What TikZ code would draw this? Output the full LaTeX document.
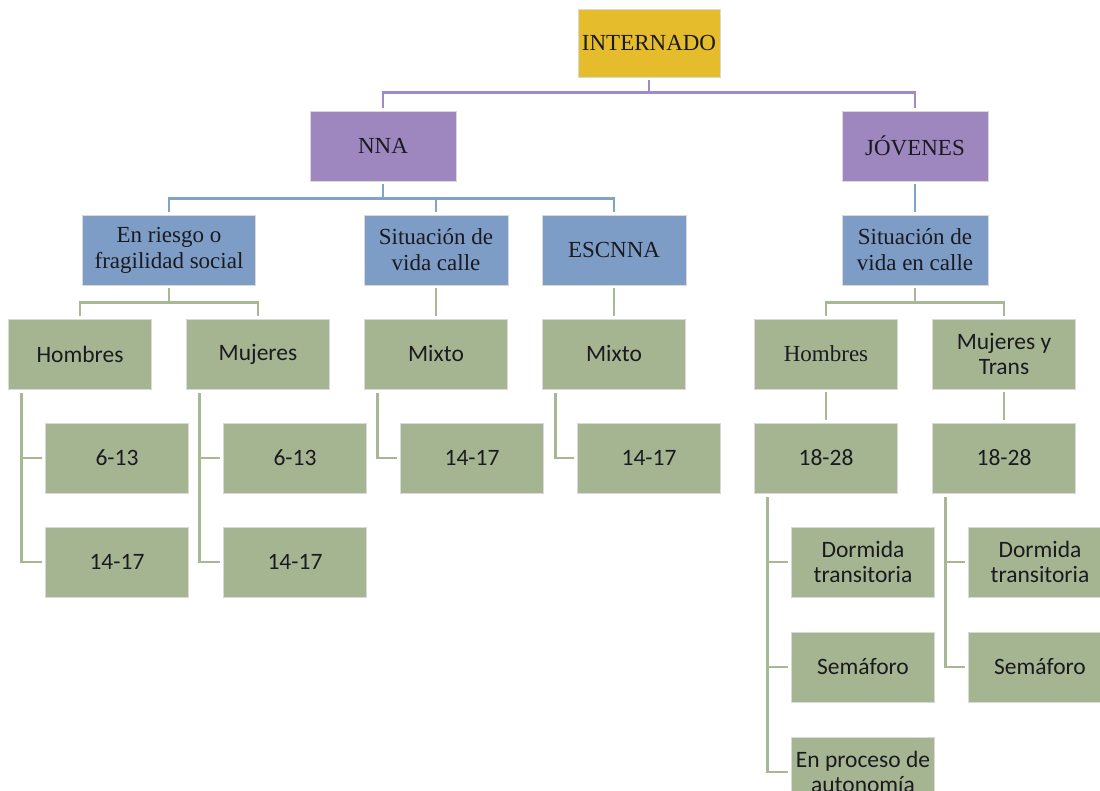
\documentclass[tikz,border=0pt]{standalone}
\usepackage{fontspec}
\setmainfont{Liberation Serif}
\newfontfamily\calfont{Carlito}
\definecolor{cgold}{HTML}{E5BC2C}
\definecolor{cpurple}{HTML}{9E86BF}
\definecolor{cblue}{HTML}{7E9DC6}
\definecolor{cgreen}{HTML}{A6B591}
\definecolor{lpurple}{HTML}{A08AC8}
\definecolor{lblue}{HTML}{82A2CA}
\definecolor{lgreen}{HTML}{A9B894}
\definecolor{ctext}{HTML}{1A1A20}
\tikzset{
  box/.style={rectangle, inner sep=2pt, align=center, text=ctext, minimum height=70pt, draw=white!85!black, line width=0.6pt},
  gbox/.style={box, fill=cgold, minimum width=142pt, minimum height=68pt, font=\fontsize{23}{26}\selectfont},
  pbox/.style={box, fill=cpurple, minimum width=146pt, font=\fontsize{23}{26}\selectfont},
  bbox/.style={box, fill=cblue, minimum width=144pt, font=\fontsize{23}{26}\selectfont},
  vbox/.style={box, fill=cgreen, minimum width=143pt, font=\calfont\fontsize{23.5}{24.5}\selectfont},
  vsbox/.style={box, fill=cgreen, minimum width=143pt, font=\fontsize{23}{24}\selectfont},
  pline/.style={draw=lpurple, line width=2.8pt},
  bline/.style={draw=lblue, line width=2.8pt},
  gline/.style={draw=lgreen, line width=2.8pt},
}
\begin{document}
\begin{tikzpicture}[x=1pt,y=-1pt]
\useasboundingbox (0,0) rectangle (1100,791);
\clip (0,0) rectangle (1100,791);
% level 0
\node[gbox] (int) at (649,43) {INTERNADO};
% level 1
\node[pbox] (nna) at (383,146) {NNA};
\node[pbox] (jov) at (915,146) {JÓVENES};
% level 2
\node[bbox, minimum width=173pt] (riesgo) at (169,250) {En riesgo o\\fragilidad social};
\node[bbox] (sitvc) at (436,250) {Situación de\\vida calle};
\node[bbox] (escnna) at (614,250) {ESCNNA};
\node[bbox, minimum width=146pt] (sitvec) at (915,250) {Situación de\\vida en calle};
% level 3
\node[vbox] (h1) at (80,354) {Hombres};
\node[vbox] (m1) at (258,354) {Mujeres};
\node[vbox] (mx1) at (436,354) {Mixto};
\node[vbox] (mx2) at (614,354) {Mixto};
\node[vsbox] (hj) at (826,354) {Hombres};
\node[vbox] (mt) at (1004,354) {Mujeres y\\Trans};
% level 4
\node[vbox] (a1) at (117,458) {6-13};
\node[vbox] (b1) at (117,562) {14-17};
\node[vbox] (a2) at (295,458) {6-13};
\node[vbox] (b2) at (295,562) {14-17};
\node[vbox] (c1) at (472,458) {14-17};
\node[vbox] (c2) at (649,458) {14-17};
\node[vbox] (d1) at (826,458) {18-28};
\node[vbox] (d2) at (1004,458) {18-28};
% level 5
\node[vbox] (dt1) at (863,562) {Dormida\\transitoria};
\node[vbox] (sem1) at (863,667) {Semáforo};
\node[vbox] (ep) at (863,772) {En proceso de\\autonomía};
\node[vbox] (dt2) at (1040,562) {Dormida\\transitoria};
\node[vbox] (sem2) at (1040,667) {Semáforo};
% connectors
\draw[pline] ([yshift=-3pt]int.south) -- ++(0,12) -| ([yshift=3pt]nna.north);
\draw[pline] ([yshift=-3pt]int.south) -- ++(0,12) -| ([yshift=3pt]jov.north);
\draw[bline] ([yshift=-3pt]nna.south) -- ++(0,14) -| ([yshift=3pt]riesgo.north);
\draw[bline] ([yshift=-3pt]nna.south) -- ++(0,14) -| ([yshift=3pt]sitvc.north);
\draw[bline] ([yshift=-3pt]nna.south) -- ++(0,14) -| ([yshift=3pt]escnna.north);
\draw[bline] ([yshift=-3pt]jov.south) -- ([yshift=3pt]sitvec.north);
\draw[gline] ([yshift=-3pt]riesgo.south) -- ++(0,14) -| ([yshift=3pt]h1.north);
\draw[gline] ([yshift=-3pt]riesgo.south) -- ++(0,14) -| ([yshift=3pt]m1.north);
\draw[gline] ([yshift=-3pt]sitvc.south) -- ([yshift=3pt]mx1.north);
\draw[gline] ([yshift=-3pt]escnna.south) -- ([yshift=3pt]mx2.north);
\draw[gline] ([yshift=-3pt]sitvec.south) -- ++(0,14) -| ([yshift=3pt]hj.north);
\draw[gline] ([yshift=-3pt]sitvec.south) -- ++(0,14) -| ([yshift=3pt]mt.north);
\draw[gline] ([yshift=-3pt]hj.south) -- ([yshift=3pt]d1.north);
\draw[gline] ([yshift=-3pt]mt.south) -- ([yshift=3pt]d2.north);
% side branches
\draw[gline] ([xshift=13pt,yshift=-4pt]h1.south west) |- ([xshift=-3pt]b1.west);
\draw[gline] ([xshift=13pt]h1.south west |- a1.west) -- ([xshift=-3pt]a1.west);
\draw[gline] ([xshift=13pt,yshift=-4pt]m1.south west) |- ([xshift=-3pt]b2.west);
\draw[gline] ([xshift=13pt]m1.south west |- a2.west) -- ([xshift=-3pt]a2.west);
\draw[gline] ([xshift=13pt,yshift=-4pt]mx1.south west) |- ([xshift=-3pt]c1.west);
\draw[gline] ([xshift=13pt,yshift=-4pt]mx2.south west) |- ([xshift=-3pt]c2.west);
\draw[gline] ([xshift=13pt,yshift=-4pt]d1.south west) |- ([xshift=-3pt]ep.west);
\draw[gline] ([xshift=13pt]d1.south west |- dt1.west) -- ([xshift=-3pt]dt1.west);
\draw[gline] ([xshift=13pt]d1.south west |- sem1.west) -- ([xshift=-3pt]sem1.west);
\draw[gline] ([xshift=13pt,yshift=-4pt]d2.south west) |- ([xshift=-3pt]sem2.west);
\draw[gline] ([xshift=13pt]d2.south west |- dt2.west) -- ([xshift=-3pt]dt2.west);
\end{tikzpicture}
\end{document}
